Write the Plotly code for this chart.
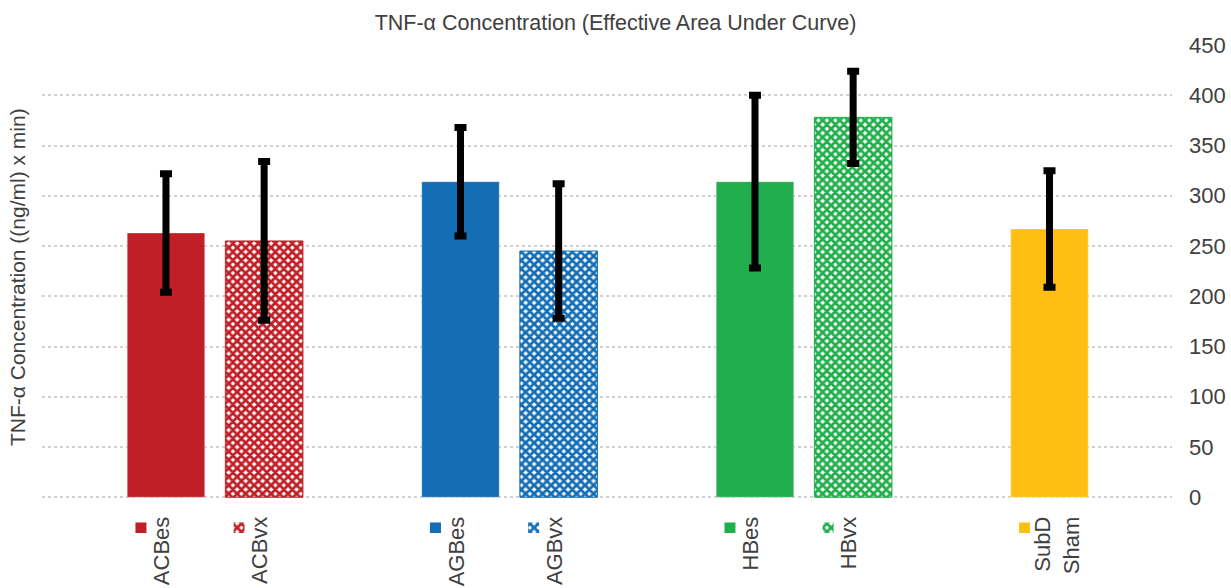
import plotly.graph_objects as go

# ---- data ----
groups = [["ACBes", "ACBvx"], ["AGBes", "AGBvx"], ["HBes", "HBvx"], ["SubD<br>Sham"]]
categories = ["ACBes", "ACBvx", "AGBes", "AGBvx", "HBes", "HBvx", "SubD<br>Sham"]
values = [263, 255, 314, 245, 314, 378, 267]
errors = [59, 79, 54, 67, 86, 46, 58]
colors = ["#C01F27", "#C01F27", "#136EB6", "#136EB6", "#21AE4C", "#21AE4C", "#FDBF12"]
patterned = [False, True, False, True, False, True, False]
y_ticks = [0, 50, 100, 150, 200, 250, 300, 350, 400, 450]

# category slots: two per group plus one blank slot between groups
positions = []
for gi, g in enumerate(groups):
    for j, _ in enumerate(g):
        positions.append(gi * 3 + j)

# multi-line labels sit a little to the right of their bar (as in the original layout)
label_pos = [p + 0.12 * cat.count("<br>") for p, cat in zip(positions, categories)]

FONT = "Liberation Sans, Arial, sans-serif"
TXT = "#404040"
FS_TICK = 22
FS_TITLE = 21.5
FS_YT = 21

def pattern_for(c):
    return dict(shape="x", size=6, solidity=0.72, fillmode="replace",
                fgcolor=c, bgcolor="white")

fig = go.Figure()

for i, cat in enumerate(categories):
    c = colors[i]
    if patterned[i]:
        marker = dict(color=c, line=dict(color=c, width=1), pattern=pattern_for(c))
    else:
        marker = dict(color=c, line=dict(color="rgba(255,255,255,0.35)", width=1))
    fig.add_trace(go.Bar(
        x=[positions[i]], y=[values[i]], width=0.79, marker=marker,
        error_y=dict(type="data", array=[errors[i]], visible=True,
                     color="#000000", thickness=7, width=6),
        name=cat.replace("<br>", " "), showlegend=False,
        hovertemplate=cat.replace("<br>", " ") + ": %{y}<extra></extra>",
    ))
    # legend key glyph under the axis, next to the label
    if patterned[i]:
        kmarker = dict(color=c, line=dict(width=0), pattern=pattern_for(c))
    else:
        kmarker = dict(color=c, line=dict(width=0))
    fig.add_trace(go.Bar(
        x=[positions[i] - 0.255], y=[10.5], base=[-35.6], width=0.112,
        marker=kmarker, showlegend=False, hoverinfo="skip",
    ))

PLOT_TOP = 44
PLOT_H = 588 - PLOT_TOP
Y_MIN, Y_MAX = -90.3, 451
zero_frac = (0 - Y_MIN) / (Y_MAX - Y_MIN)

fig.update_layout(
    width=1231, height=588,
    margin=dict(l=42, r=59, t=PLOT_TOP, b=0, autoexpand=False),
    paper_bgcolor="white", plot_bgcolor="white",
    barmode="overlay", showlegend=False,
    font=dict(family=FONT, size=FS_TICK, color=TXT),
    title=dict(text="TNF-α Concentration (Effective Area Under Curve)",
               x=0.5, xref="container", xanchor="center",
               y=1 - 22 / 588, yref="container", yanchor="middle",
               font=dict(family=FONT, size=FS_TITLE, color=TXT)),
    xaxis=dict(range=[-1.263, 10.248], tickvals=label_pos, ticktext=categories,
               tickangle=-90, showgrid=False, zeroline=False, showline=False,
               ticks="", ticklabelstandoff=14, ticklabelshift=-4,
               anchor="free", position=zero_frac,
               tickfont=dict(family=FONT, size=FS_TICK, color=TXT)),
    yaxis=dict(side="right", range=[Y_MIN, Y_MAX], tickvals=y_ticks,
               showgrid=True, gridcolor="#D0D0D0", gridwidth=2, griddash="dot",
               zeroline=False, showline=False, ticks="", ticklabelstandoff=16,
               tickfont=dict(family=FONT, size=FS_TICK, color=TXT)),
    annotations=[dict(text="TNF-α Concentration ((ng/ml) x min)", textangle=-90,
                      xref="paper", yref="paper", x=-0.0221, y=(588 - 277) / PLOT_H,
                      xanchor="center", yanchor="middle", showarrow=False,
                      font=dict(family=FONT, size=FS_YT, color=TXT))],
)

fig.write_html(
    "out.html",
    config={"displayModeBar": False},
    post_script="document.body.style.margin='0';document.body.style.overflow='hidden';",
)
